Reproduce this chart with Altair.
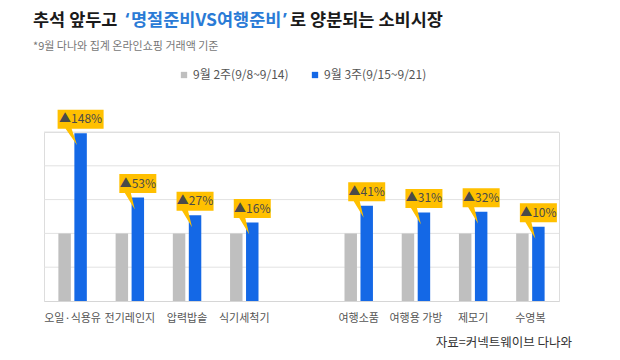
import altair as alt
import pandas as pd

FONT = "Noto Sans CJK KR"

categories = ["오일·식용유", "전기레인지", "압력밥솥", "식기세척기", " ",
              "여행소품", "여행용 가방", "제모기", "수영복"]
bar_categories = ["오일·식용유", "전기레인지", "압력밥솥", "식기세척기",
                  "여행소품", "여행용 가방", "제모기", "수영복"]
series = ["9월 2주(9/8~9/14)", "9월 3주(9/15~9/21)"]
week2 = [100, 100, 100, 100, 100, 100, 100, 100]
week3 = [248, 153, 127, 116, 141, 131, 132, 110]
labels = ["▲148%", "▲53%", "▲27%", "▲16%", "▲41%", "▲31%", "▲32%", "▲10%"]
grid_values = [50, 100, 150, 200, 250]

GRAY = "#BFBFBF"
BLUE = "#1468E6"
YELLOW = "#FFC000"

rows = []
for c, a, b in zip(bar_categories, week2, week3):
    rows.append({"cat": c, "series": series[0], "value": a})
    rows.append({"cat": c, "series": series[1], "value": b})
bars_df = pd.DataFrame(rows)

lab_df = pd.DataFrame({
    "cat": bar_categories,
    "series": series[1],
    "value": week3,
    "label": labels,
})
lab_df["w"] = ["w" if len(s) > 4 else "n" for s in labels]

y_scale = alt.Scale(domain=[0, 250], nice=False)

x_enc = alt.X("cat:N", scale=alt.Scale(domain=categories, paddingInner=0, paddingOuter=0),
              sort=categories,
              axis=alt.Axis(title=None, labelAngle=0, ticks=False, domainColor="#d6d6d6",
                            labelFontSize=11, labelColor="#555555", labelFont=FONT,
                            labelPadding=11, grid=False))
xo_enc = alt.XOffset("series:N", scale=alt.Scale(domain=series, paddingInner=0.22, paddingOuter=0.9))

grid = alt.Chart(pd.DataFrame({"g": grid_values})).mark_rule(
    color="#e2e2e2", strokeWidth=1).encode(
    y=alt.Y("g:Q", scale=y_scale, axis=None))

bars = alt.Chart(bars_df).mark_bar().encode(
    x=x_enc, xOffset=xo_enc,
    y=alt.Y("value:Q", scale=y_scale, axis=None),
    color=alt.Color("series:N", scale=alt.Scale(domain=series, range=[GRAY, BLUE]),
                    legend=alt.Legend(orient="none", legendX=134, legendY=-63,
                                      direction="horizontal", title=None,
                                      symbolType="square", symbolSize=40,
                                      symbolStrokeWidth=0, labelFontSize=12,
                                      labelColor="#555555", labelFont=FONT,
                                      columnPadding=20, labelOffset=3)),
)

path_n = "M-1.85,-2.35 L1.85,-2.35 L1.85,-0.45 L-0.7,-0.45 L-0.3,1.2 L-1.3,-0.45 L-1.85,-0.45 Z"
path_w = "M-2.3,-2.35 L2.3,-2.35 L2.3,-0.45 L-0.9,-0.45 L-0.35,1.2 L-1.5,-0.45 L-2.3,-0.45 Z"

bubbles = alt.Chart(lab_df).mark_point(filled=True, color=YELLOW, opacity=1, size=400,
                                        strokeWidth=0).encode(
    x=alt.X("cat:N", sort=categories), xOffset=alt.XOffset("series:N"),
    y=alt.Y("value:Q", scale=y_scale),
    shape=alt.Shape("w:N", scale=alt.Scale(domain=["n", "w"], range=[path_n, path_w]),
                    legend=None),
)

texts = alt.Chart(lab_df).mark_text(fontSize=12, color="#4a4a4a", font=FONT, dy=-14,
                                    baseline="middle").encode(
    x=alt.X("cat:N", sort=categories), xOffset=alt.XOffset("series:N"),
    y=alt.Y("value:Q", scale=y_scale), text="label:N",
)

def txt(s, x, y, size, color, weight="normal", align="left", font=FONT):
    return alt.Chart(pd.DataFrame({"t": [s]})).mark_text(
        fontSize=size, color=color, font=font, fontWeight=weight, align=align,
        baseline="middle").encode(text="t:N", x=alt.value(x), y=alt.value(y))

TBLUE = "#2A7BD6"
TS = 17.5
TY = -111
title1 = txt("추석 앞두고", -11, TY, TS, "#1a1a1a", "bold")
q1 = txt("‘", 81.5, TY, TS, TBLUE, "bold", font="Noto Sans")
title2 = txt("명절준비VS여행준비", 87, TY, TS, TBLUE, "bold")
q2 = txt("’", 239, TY, TS, TBLUE, "bold", font="Noto Sans")
title3 = txt("로 양분되는 소비시장", 246, TY, TS, "#1a1a1a", "bold")
subtitle = txt("*9월 다나와 집계 온라인쇼핑 거래액 기준", -11, -85, 11, "#777777")
source = txt("자료=커넥트웨이브 다나와", 528, 211, 12.5, "#333333", align="right")

chart = alt.layer(grid, bars, bubbles, texts, title1, q1, title2, q2, title3,
                  subtitle, source).properties(
    width=515, height=169,
    autosize=alt.AutoSizeParams(type="none"),
    padding={"left": 36, "top": 124, "right": 48, "bottom": 51},
).configure_view(stroke=None).configure(background="white")

chart.save("out.html", embed_options={"renderer": "svg", "actions": False})
